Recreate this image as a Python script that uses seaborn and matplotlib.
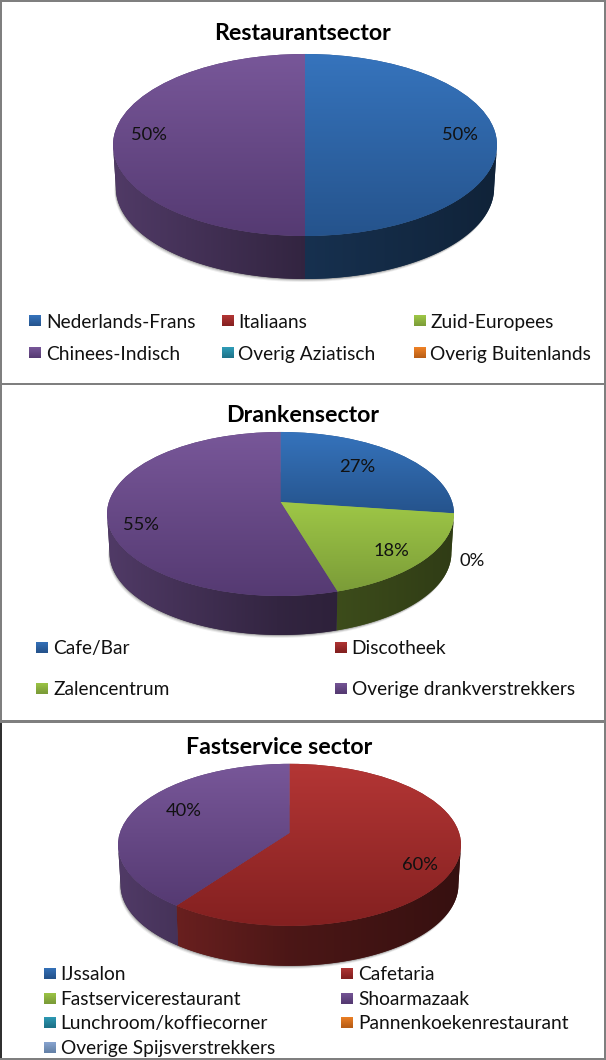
import numpy as np
import seaborn as sns
import matplotlib
matplotlib.use("Agg")
import matplotlib.pyplot as plt
from matplotlib.patches import Polygon
from matplotlib.transforms import Transform

# DATA
RESTO_CATS = ["Nederlands-Frans", "Italiaans", "Zuid-Europees", "Chinees-Indisch", "Overig Aziatisch", "Overig Buitenlands"]
RESTO_VALS = [50, 0, 0, 50, 0, 0]
DRANK_CATS = ["Cafe/Bar", "Discotheek", "Zalencentrum", "Overige drankverstrekkers"]
DRANK_VALS = [27.2, 0, 18.2, 54.6]
FAST_CATS = ["IJssalon", "Cafetaria", "Fastservicerestaurant", "Shoarmazaak",
             "Lunchroom/koffiecorner", "Pannenkoekenrestaurant", "Overige Spijsverstrekkers"]
FAST_VALS = [0, 60, 0, 40, 0, 0, 0]

# office-style palette, (top, bottom) of the gradient
SERIES_COLORS = [("#3674bd", "#25538c"), ("#b43635", "#832020"), ("#9fc847", "#7b9c38"),
                 ("#785799", "#553a72"), ("#2f9db8", "#1d7288"), ("#f08226", "#b85d15"),
                 ("#8ca8d4", "#6582a8")]
WALL_SHADES = (0.67, 0.42, 0.30)
TILT_K = 0.146
FONT = "Lato"
GRAY = "#7f7f7f"
LEGEND_SIZE = 13.75

sns.set_theme(style="white")
plt.rcParams["font.family"] = [FONT, "DejaVu Sans"]


class PieTilt(Transform):
    # projective map: unit circle of the pie -> tilted ellipse in pixels
    input_dims = 2
    output_dims = 2
    has_inverse = False

    def __init__(self, cx, apex, rx, ry_full):
        super().__init__()
        self.cx, self.apex = cx, apex
        self.r = rx * np.sqrt(1 - TILT_K ** 2)
        self.a = ry_full * (1 - TILT_K ** 2)

    def transform_non_affine(self, values):
        values = np.asarray(values, dtype=float)
        w = 1 + TILT_K * values[:, 1]
        return np.column_stack([self.cx + self.r * values[:, 0] / w,
                                self.apex - self.a * values[:, 1] / w])


def shade(color, f):
    return tuple(c * f for c in matplotlib.colors.to_rgb(color))


def gradient_image(ax, colors, extent, clip, horizontal=False, zorder=3):
    cmap = sns.blend_palette(colors, as_cmap=True)
    grad = np.linspace(0, 1, 256)
    grad = grad[None, :] if horizontal else grad[:, None]
    im = ax.imshow(grad, cmap=cmap, extent=extent, aspect="auto", origin="upper",
                   interpolation="bilinear", zorder=zorder)
    im.set_clip_path(clip)
    return im


def draw_pie(ax, vals, cols, cx, apex, rx, top, bottom, depth):
    ry = (bottom - top) / 2
    tilt = PieTilt(cx, apex, rx, ry)
    left, right = cx - rx - 1, cx + rx + 1

    # soft shadow under the wall
    th = np.radians(np.linspace(0, 360, 361))
    rim = tilt.transform(np.column_stack([np.sin(th), np.cos(th)]))
    for grow, alpha in [(3.0, 0.10), (2.0, 0.18), (1.0, 0.30)]:
        pts = np.column_stack([cx + (rim[:, 0] - cx) * 0.985 - grow * 0.5, rim[:, 1] + depth + grow])
        ax.add_patch(Polygon(pts, closed=True, fc="#555555", ec="none", alpha=alpha, zorder=1))

    wedges, _ = ax.pie(vals, startangle=90, counterclock=False,
                       colors=[c[0] for c in cols], radius=1, normalize=True,
                       wedgeprops={"linewidth": 0, "edgecolor": "none"})
    front = np.degrees(np.arcsin(TILT_K))
    start = 0.0
    for wedge, val, col in zip(wedges, vals, cols):
        stop = start + val * 3.6
        wedge.set_transform(tilt + ax.transData)
        wedge.set_facecolor(col[1])
        wedge.set_zorder(4)
        if val > 0:
            # gradient runs over the height of the slice itself
            th = np.radians(np.linspace(start, stop, 120))
            ring = tilt.transform(np.column_stack([np.sin(th), np.cos(th)]))
            ys = np.append(ring[:, 1], apex)
            gradient_image(ax, col, (left, right, ys.max() + 1, ys.min() - 1), wedge, zorder=5)
        # visible part of the side wall
        a, b = max(start, 90 + front), min(stop, 270 - front)
        if b > a:
            th = np.radians(np.linspace(a, b, 80))
            up = tilt.transform(np.column_stack([np.sin(th), np.cos(th)]))
            low = np.column_stack([cx + (up[:, 0] - cx) * 0.985, up[:, 1] + depth])
            wall = Polygon(np.vstack([up, low[::-1]]), closed=True, fc=shade(col[0], 0.42), ec="none", zorder=2)
            ax.add_patch(wall)
            shades = [shade(col[0], f) for f in WALL_SHADES]
            gradient_image(ax, shades, (left, right, bottom + depth + 2, top), wall, horizontal=True, zorder=3)
        start = stop


def draw_legend(ax, cats, cols, swatch_x, text_x, rows):
    n = len(swatch_x)
    for i, (name, col) in enumerate(zip(cats, cols)):
        c, r = i % n, i // n
        x, y = swatch_x[c], rows[r]
        box = Polygon([(x, y - 5.5), (x + 11.5, y - 5.5), (x + 11.5, y + 5.5), (x, y + 5.5)],
                      closed=True, fc=col[1], ec="none", zorder=4)
        ax.add_patch(box)
        gradient_image(ax, col, (x, x + 11.5, y + 5.5, y - 5.5), box, zorder=5)
        ax.text(text_x[c], y + 1.6, name, ha="left", va="center", fontsize=LEGEND_SIZE, color="#111111", zorder=6)


def finish(ax, vals, x0, x1, y0, y1, title, title_pos, pct_labels):
    # pct_labels: index of the slice -> where its label sits
    for i, (px, py) in pct_labels.items():
        ax.text(px, py + 1.5, f"{vals[i]:.0f}%", ha="center", va="center", fontsize=13.2, color="#111111", zorder=7)
    ax.text(title_pos[0], title_pos[1] + 1, title, ha="center", va="center",
            fontsize=16.7, fontweight="bold", color="black", zorder=7)
    ax.set_xlim(x0, x1)
    ax.set_ylim(y1, y0)
    ax.set_xticks([])
    ax.set_yticks([])
    ax.set_frame_on(True)
    for s in ax.spines.values():
        s.set_visible(True)
        s.set_color(GRAY)
        s.set_linewidth(1.44)
        s.set_zorder(8)


W, H = 606, 1060
fig = plt.figure(figsize=(W / 100, H / 100), dpi=100, facecolor="white")


def panel(y0, y1):
    return fig.add_axes([1 / W, 1 - y1 / H, (W - 2) / W, (y1 - y0) / H])


# Restaurantsector
ax1 = panel(1, 384)
draw_pie(ax1, RESTO_VALS, SERIES_COLORS, 305, 131.7, 192, 54, 236, 43)
draw_legend(ax1, RESTO_CATS, SERIES_COLORS, [29, 222, 414], [46.4, 238.5, 430], [321, 353])
finish(ax1, RESTO_VALS, 1, 605, 1, 384, "Restaurantsector", (303, 33),
       {0: (459.6, 133), 3: (149, 133)})

# Drankensector
drank_cols = SERIES_COLORS[:4]
ax2 = panel(384, 721)
draw_pie(ax2, DRANK_VALS, drank_cols, 280.5, 502, 173.5, 432, 596, 39)
draw_legend(ax2, DRANK_CATS, drank_cols, [36, 335], [53.3, 351.7], [647, 688])
finish(ax2, DRANK_VALS, 1, 605, 384, 721, "Drankensector", (303, 415),
       {0: (357.5, 466), 1: (472, 559), 2: (391, 550), 3: (140.7, 523)})

# Fastservice sector
ax3 = panel(721.5, 1059)
draw_pie(ax3, FAST_VALS, SERIES_COLORS, 289.5, 833, 171.5, 764, 926, 40)
draw_legend(ax3, FAST_CATS, SERIES_COLORS, [44, 341], [60.7, 358], [973, 998, 1022, 1047])
finish(ax3, FAST_VALS, 1, 605, 721.5, 1059, "Fastservice sector", (279, 746),
       {1: (420, 863), 3: (183.6, 810)})
ax3.spines["left"].set_color("#303030")

fig.savefig("out.png", dpi=100, facecolor="white")
